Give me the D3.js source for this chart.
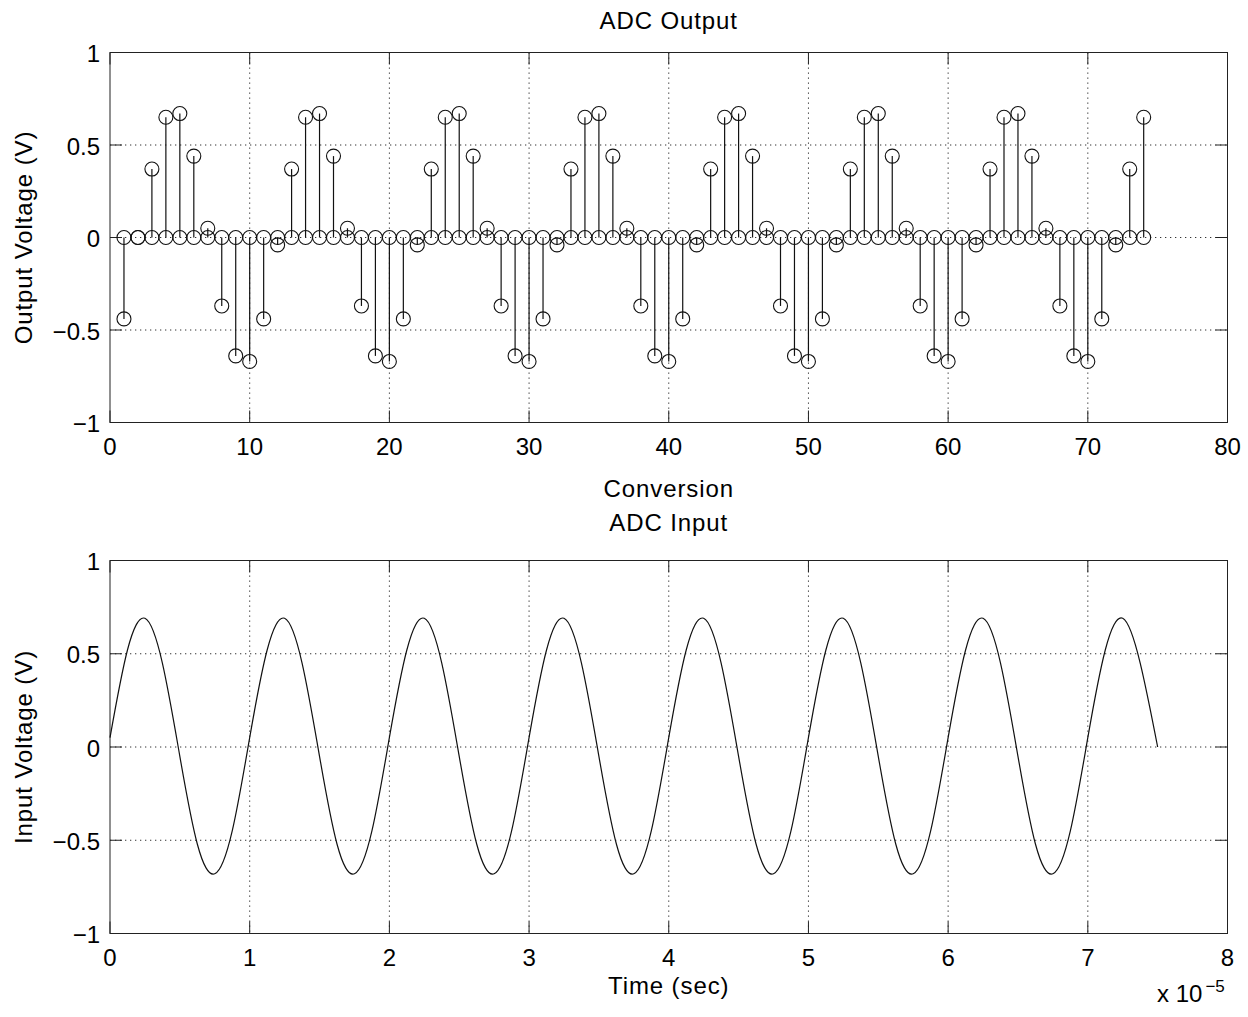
<!DOCTYPE html>
<meta charset="utf-8">

<!-- Load d3.js -->
<script src="https://d3js.org/d3.v7.min.js"></script>

<style>
  body { margin: 0; background: #fff; }
  text { font-family: "Liberation Sans", Arial, Helvetica, sans-serif; fill: #000; }
</style>

<!-- Create a div where the graph will take place -->
<div id="my_dataviz"></div>

<script>

// ADC output voltage, one value per conversion (conversion 1 .. 74)
var adcOut = [
  -0.44, 0,
  0.37, 0.65, 0.67, 0.44, 0.05, -0.37, -0.64, -0.67, -0.44, -0.04,
  0.37, 0.65, 0.67, 0.44, 0.05, -0.37, -0.64, -0.67, -0.44, -0.04,
  0.37, 0.65, 0.67, 0.44, 0.05, -0.37, -0.64, -0.67, -0.44, -0.04,
  0.37, 0.65, 0.67, 0.44, 0.05, -0.37, -0.64, -0.67, -0.44, -0.04,
  0.37, 0.65, 0.67, 0.44, 0.05, -0.37, -0.64, -0.67, -0.44, -0.04,
  0.37, 0.65, 0.67, 0.44, 0.05, -0.37, -0.64, -0.67, -0.44, -0.04,
  0.37, 0.65, 0.67, 0.44, 0.05, -0.37, -0.64, -0.67, -0.44, -0.04,
  0.37, 0.65
];

// ADC input voltage, read every 0.125 x 1e-5 sec from 0 to 7.5
var inputStep = 0.125;
var inputVolts = [
  0.05, 0.52, 0.69, 0.45, -0.05, -0.52, -0.68, -0.45,
  0.05, 0.52, 0.69, 0.45, -0.05, -0.52, -0.68, -0.45,
  0.05, 0.52, 0.69, 0.45, -0.05, -0.52, -0.68, -0.45,
  0.05, 0.52, 0.69, 0.45, -0.05, -0.52, -0.68, -0.45,
  0.05, 0.52, 0.69, 0.45, -0.05, -0.52, -0.68, -0.45,
  0.05, 0.52, 0.69, 0.45, -0.05, -0.52, -0.68, -0.45,
  0.05, 0.52, 0.69, 0.45, -0.05, -0.52, -0.68, -0.45,
  0.05, 0.52, 0.69, 0.45, 0.0
];

// tick labels
var convTicks = [0, 10, 20, 30, 40, 50, 60, 70, 80];
var timeTicks = [0, 1, 2, 3, 4, 5, 6, 7, 8];
var voltTicks = [-1, -0.5, 0, 0.5, 1];

var conv = adcOut.map(function(d, i) { return i + 1; });
var inputData = inputVolts.map(function(v, i) { return {t: i * inputStep, v: v}; });

// set the dimensions of the page and the two axes boxes
var W = 1248, H = 1017;
var left = 110, right = 1227.5;
var top1 = 52.5, bottom1 = 422.5;
var top2 = 560.5, bottom2 = 933.5;
var tickLen = 12;
var fontSize = 24;

var svg = d3.select("#my_dataviz")
.append("svg")
  .attr("width", W)
  .attr("height", H)

svg.append("rect")
  .attr("width", W)
  .attr("height", H)
  .attr("fill", "#fff")

var fmt = d3.format("~g");

// grid, frame, inward ticks on all four sides and tick labels
function drawFrame(x, y, xTicks, yTicks) {
  var x0 = x.range()[0], x1 = x.range()[1];
  var y0 = y.range()[0], y1 = y.range()[1];
  var g = svg.append("g");

  // dotted grid
  g.selectAll("line.vgrid")
    .data(xTicks.slice(1, -1))
    .enter()
    .append("line")
      .attr("x1", function(d) { return x(d); })
      .attr("x2", function(d) { return x(d); })
      .attr("y1", y1)
      .attr("y2", y0)
      .attr("stroke", "#333")
      .attr("stroke-dasharray", "1.3,3.7")

  g.selectAll("line.hgrid")
    .data(yTicks.slice(1, -1))
    .enter()
    .append("line")
      .attr("x1", x0)
      .attr("x2", x1)
      .attr("y1", function(d) { return y(d); })
      .attr("y2", function(d) { return y(d); })
      .attr("stroke", "#333")
      .attr("stroke-dasharray", "1.3,3.7")

  // ticks
  xTicks.forEach(function(d) {
    g.append("line")
      .attr("x1", x(d)).attr("x2", x(d))
      .attr("y1", y0).attr("y2", y0 - tickLen)
      .attr("stroke", "#222")
    g.append("line")
      .attr("x1", x(d)).attr("x2", x(d))
      .attr("y1", y1).attr("y2", y1 + tickLen)
      .attr("stroke", "#222")
    g.append("text")
      .attr("x", x(d))
      .attr("y", y0 + 32.5)
      .attr("text-anchor", "middle")
      .style("font-size", fontSize + "px")
      .text(fmt(d))
  });

  yTicks.forEach(function(d) {
    g.append("line")
      .attr("x1", x0).attr("x2", x0 + tickLen)
      .attr("y1", y(d)).attr("y2", y(d))
      .attr("stroke", "#222")
    g.append("line")
      .attr("x1", x1).attr("x2", x1 - tickLen)
      .attr("y1", y(d)).attr("y2", y(d))
      .attr("stroke", "#222")
    g.append("text")
      .attr("x", x0 - 10)
      .attr("y", y(d) + 9.5)
      .attr("text-anchor", "end")
      .style("font-size", fontSize + "px")
      .text(fmt(d))
  });

  // box
  g.append("rect")
    .attr("x", x0)
    .attr("y", y1)
    .attr("width", x1 - x0)
    .attr("height", y0 - y1)
    .attr("fill", "none")
    .attr("stroke", "#222")
}

function label(txt, xp, yp, rotate) {
  var t = svg.append("text")
    .attr("x", xp)
    .attr("y", yp)
    .attr("text-anchor", "middle")
    .style("font-size", fontSize + "px")
    .style("letter-spacing", "0.9px")
    .text(txt)
  if (rotate) t.attr("transform", "rotate(-90," + xp + "," + yp + ")");
  return t;
}

// ---------- top: ADC Output (stem plot) ----------
var x1s = d3.scaleLinear().domain([0, 80]).range([left, right]);
var y1s = d3.scaleLinear().domain([-1, 1]).range([bottom1, top1]);

drawFrame(x1s, y1s, convTicks, voltTicks);

// stems
svg.append("g")
  .selectAll("line")
  .data(adcOut)
  .enter()
  .append("line")
    .attr("x1", function(d, i) { return x1s(conv[i]); })
    .attr("x2", function(d, i) { return x1s(conv[i]); })
    .attr("y1", y1s(0))
    .attr("y2", function(d) { return y1s(d); })
    .attr("stroke", "#111")
    .attr("stroke-width", 1.2)

// markers at zero for every conversion
svg.append("g")
  .selectAll("circle")
  .data(conv)
  .enter()
  .append("circle")
    .attr("cx", function(d) { return x1s(d); })
    .attr("cy", y1s(0))
    .attr("r", 7)
    .attr("fill", "none")
    .attr("stroke", "#111")
    .attr("stroke-width", 1.1)

// markers at output value
svg.append("g")
  .selectAll("circle")
  .data(adcOut)
  .enter()
  .append("circle")
    .attr("cx", function(d, i) { return x1s(conv[i]); })
    .attr("cy", function(d) { return y1s(d); })
    .attr("r", 7)
    .attr("fill", "none")
    .attr("stroke", "#111")
    .attr("stroke-width", 1.1)

label("ADC Output", (left + right) / 2, 29);
label("Conversion", (left + right) / 2, 497);
label("Output Voltage (V)", 32, (top1 + bottom1) / 2, true);

// ---------- bottom: ADC Input ----------
var x2s = d3.scaleLinear().domain([0, 8]).range([left, right]);
var y2s = d3.scaleLinear().domain([-1, 1]).range([bottom2, top2]);

drawFrame(x2s, y2s, timeTicks, voltTicks);

var line = d3.line()
  .x(function(d) { return x2s(d.t); })
  .y(function(d) { return y2s(d.v); })
  .curve(d3.curveNatural)

svg.append("path")
  .datum(inputData)
  .attr("d", line)
  .attr("fill", "none")
  .attr("stroke", "#111")
  .attr("stroke-width", 1.2)

label("ADC Input", (left + right) / 2, 531);
label("Time (sec)", (left + right) / 2, 994);
label("Input Voltage (V)", 32, (top2 + bottom2) / 2, true);

// exponent of the time axis
var ex = svg.append("text")
  .attr("x", 1157)
  .attr("y", 1001.5)
  .style("font-size", fontSize + "px")
ex.append("tspan").text("x 10");
ex.append("tspan")
  .attr("dx", 3)
  .attr("dy", -10)
  .style("font-size", "17px")
  .text("\u22125");

</script>
